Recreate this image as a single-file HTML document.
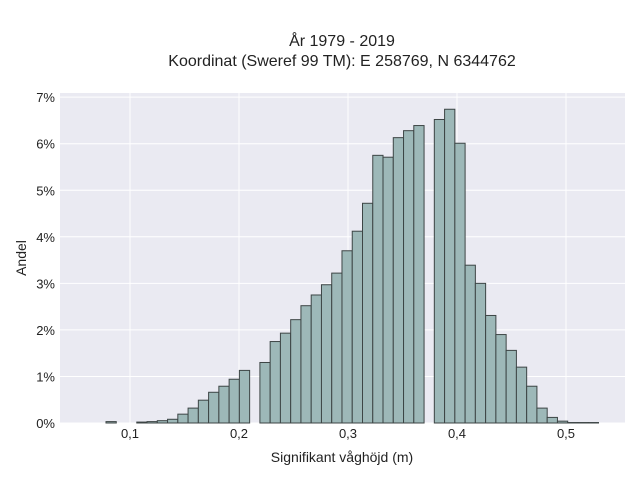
<!DOCTYPE html>
<html><head><meta charset="utf-8"><style>
body{margin:0;background:#fff}
svg{display:block;font-family:"Liberation Sans",sans-serif}
</style></head><body>
<svg id="c" width="640" height="480">
<rect x="60" y="93" width="565" height="330" fill="#eaeaf2"/>
<g id="grid"></g><g id="bars"></g><g id="axes"></g>
<text x="342" y="46" text-anchor="middle" font-size="16" fill="#222">År 1979 - 2019</text>
<text x="342" y="66" text-anchor="middle" font-size="16" fill="#222">Koordinat (Sweref 99 TM): E 258769, N 6344762</text>
<text x="342" y="462" text-anchor="middle" font-size="14" fill="#222">Signifikant våghöjd (m)</text>
<text x="26" y="258" text-anchor="middle" font-size="14" fill="#222" transform="rotate(-90 26 258)">Andel</text>
</svg>
<script>
const binStart = 0.07798;
const binWidth = 0.009413;
const binValues = [0.03,0,0,0.02,0.03,0.05,0.08,0.19,0.32,0.49,0.66,0.79,0.94,1.13,0,1.3,1.75,1.93,2.22,2.52,2.75,2.97,3.22,3.7,4.12,4.72,5.75,5.71,6.13,6.28,6.39,0,6.52,6.74,6.01,3.39,3.0,2.31,1.9,1.56,1.2,0.79,0.32,0.12,0.04,0.01,0.01,0.01];
const xTicks = [0.1,0.2,0.3,0.4,0.5];
const xTickLabels = ["0,1","0,2","0,3","0,4","0,5"];
const yTicks = [0,1,2,3,4,5,6,7];
const ns="http://www.w3.org/2000/svg";
const X=v=>130+(v-0.1)*1090;
const Y=p=>423-p*46.55;
function mk(t,a,p){const e=document.createElementNS(ns,t);for(const k in a)e.setAttribute(k,a[k]);p.appendChild(e);return e;}
const grid=document.getElementById('grid'),bars=document.getElementById('bars'),axes=document.getElementById('axes');
xTicks.forEach((v,i)=>{
  const l=mk('line',{x1:X(v),x2:X(v),y1:93,y2:423,stroke:'#fff','stroke-width':1},grid);
  
  
  const t=mk('text',{x:X(v),y:438,'text-anchor':'middle','font-size':13,fill:'#222'},axes);
  t.textContent=xTickLabels[i];
  
  
});
yTicks.forEach(v=>{
  const l=mk('line',{x1:60,x2:625,y1:Y(v),y2:Y(v),stroke:'#fff','stroke-width':1},grid);
  
  
  const t=mk('text',{x:55,y:Y(v)+5,'text-anchor':'end','font-size':13,fill:'#222'},axes);
  t.textContent=v+'%';
  
  
});
binValues.forEach((v,i)=>{
  if(v<=0)return;
  const x0=X(binStart+i*binWidth),x1=X(binStart+(i+1)*binWidth);
  const r=mk('rect',{x:x0,y:Y(v),width:x1-x0,height:423-Y(v),fill:'#9db8b8',stroke:'#3d4545','stroke-width':1},bars);
  
  
});
</script>
</body></html>
